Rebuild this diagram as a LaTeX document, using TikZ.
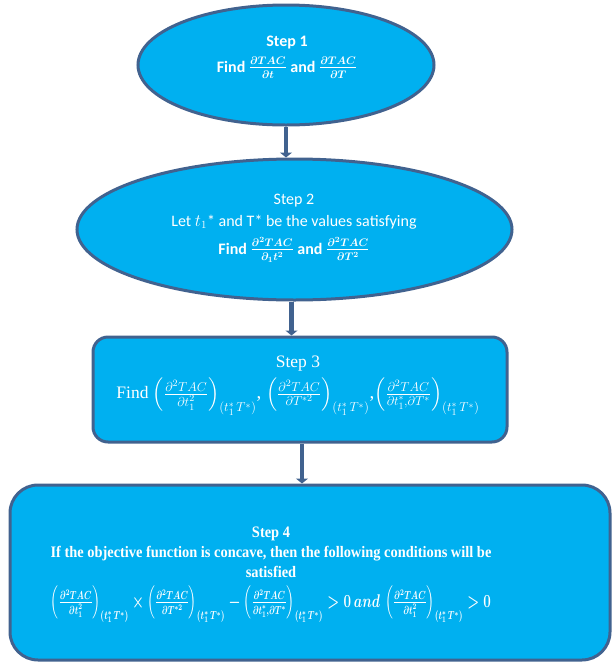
\documentclass[tikz,border=0pt]{standalone}
\usepackage{amsmath}
\usepackage{graphicx}
\usepackage{fontspec}
\setmainfont{Carlito}
\newfontfamily\tnr{Liberation Serif}
\newfontfamily\tnrc[FakeStretch=0.9]{Liberation Serif}
\usetikzlibrary{shapes.geometric,arrows.meta}
\definecolor{fillc}{HTML}{00B0F0}
\definecolor{edgec}{HTML}{41628F}
\tikzset{
  shapebox/.style={draw=edgec, fill=fillc, line width=3pt},
  ellbox/.style={shapebox, ellipse, inner sep=0pt},
  rbox/.style={shapebox, rectangle, inner sep=0pt},
  lbl/.style={text=white, align=center, inner sep=0pt},
  conn/.style={draw=edgec, line width=4.5pt, -{Triangle[width=12pt,length=5pt]}}
}
\newcommand{\sub}{_{(t_1^{*}\,T^{*})}}
\begin{document}
\begin{tikzpicture}[x=1pt,y=-1pt]
\useasboundingbox (0,0) rectangle (612,662);
% shapes
\node[ellbox, minimum width=296pt, minimum height=120pt] (s1) at (286,65) {};
\node[ellbox, minimum width=435pt, minimum height=141pt] (s2) at (294.5,229.5) {};
\node[rbox, rounded corners=15pt, minimum width=414pt, minimum height=105pt] (s3) at (300,389.5) {};
\node[rbox, rounded corners=28pt, minimum width=600pt, minimum height=175pt] (s4) at (310,572.5) {};
% texts
\node[lbl, font=\fontsize{16}{26}\selectfont\bfseries\boldmath] (t1) at (287,57)
  {Step 1\\ Find $\frac{\partial TAC}{\partial t}$ and $\frac{\partial TAC}{\partial T}$};
\node[lbl, font=\fontsize{16}{22}\selectfont] (t2) at (294,228)
  {Step 2\\ Let $t_1$* and T* be the values satisfying\\[6pt]
   {\bfseries\boldmath Find $\frac{\partial^2 TAC}{\partial_1 t^2}$ and $\frac{\partial^2 TAC}{\partial T^2}$}};
\node[lbl, font=\fontsize{17.5}{31}\selectfont\tnr] (t3) at (298,386)
  {Step 3\\ Find \resizebox*{!}{38pt}{$\left(\frac{\partial^2 TAC}{\partial t_1^2}\right)\sub$, $\left(\frac{\partial^2 TAC}{\partial T^{*2}}\right)\sub$,$\left(\frac{\partial^2 TAC}{\partial t_1^{*},\partial T^{*}}\right)\sub$}};
\node[lbl, font=\fontsize{16}{20}\selectfont\tnrc\bfseries\boldmath] (t4) at (271,575)
  {Step 4\\ If the objective function is concave, then the following conditions will be\\ satisfied\\[7pt]
   \resizebox*{440pt}{37pt}{$\left(\frac{\partial^2 TAC}{\partial t_1^2}\right)\sub \times \left(\frac{\partial^2 TAC}{\partial T^{*2}}\right)\sub - \left(\frac{\partial^2 TAC}{\partial t_1^{*},\partial T^{*}}\right)\sub > 0\ and\ \left(\frac{\partial^2 TAC}{\partial t_1^2}\right)\sub > 0$}};
% connectors
\draw[conn] (s1.south) -- (s1.south |- s2.north);
\draw[conn] ([xshift=-3pt]s2.south) -- ([xshift=-3pt]s2.south |- s3.north);
\draw[conn] ([xshift=2pt]s3.south) -- ([xshift=2pt]s3.south |- s4.north);
\end{tikzpicture}
\end{document}
